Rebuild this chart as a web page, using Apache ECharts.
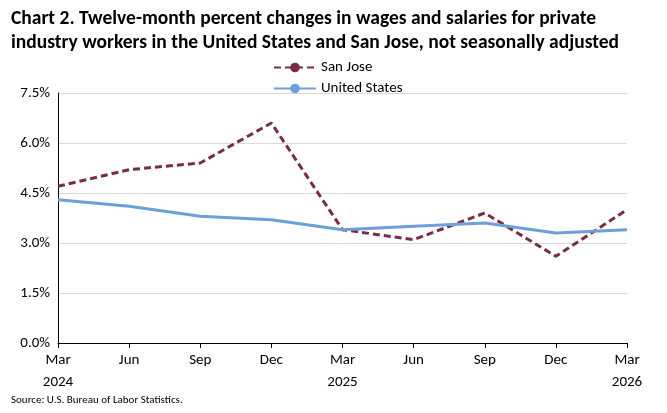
<!DOCTYPE html>
<html><head><meta charset="utf-8">
<script src="https://cdn.jsdelivr.net/npm/echarts@6/dist/echarts.min.js"></script>
<style>html,body{margin:0;padding:0;background:#fff}#c{width:667px;height:413px}</style>
</head><body><div id="c"></div>
<script>
const categories = ["Mar\n2024","Jun","Sep","Dec","Mar\n2025","Jun","Sep","Dec","Mar\n2026"];
const sanJose = [4.7,5.2,5.4,6.6,3.4,3.1,3.9,2.6,4.0];
const unitedStates = [4.3,4.1,3.8,3.7,3.4,3.5,3.6,3.3,3.4];
const chart = echarts.init(document.getElementById('c'));
const font = 'Calibri, Carlito, "Liberation Sans", Arial, sans-serif';
chart.setOption({
  animation:false,
  textStyle:{fontFamily:font},
  title:[{text:"Chart 2. Twelve-month percent changes in wages and salaries for private\nindustry workers in the United States and San Jose, not seasonally adjusted",
    left:6,top:2,textStyle:{fontSize:19.5,fontWeight:'bold',color:'#000',lineHeight:24,fontFamily:font}},
    {text:"Source: U.S. Bureau of Labor Statistics.",left:6,bottom:2,textStyle:{fontSize:11,fontWeight:'normal',color:'#000',fontFamily:font}}],
  legend:{orient:'vertical',left:268,top:55,itemGap:6,itemWidth:42,itemHeight:12,
    textStyle:{fontSize:15,color:'#000',fontFamily:font},
    data:['San Jose','United States']},
  grid:{left:58,right:40,top:93,bottom:70},
  xAxis:{type:'category',boundaryGap:false,data:categories,
    axisLine:{lineStyle:{color:'#000'}},axisTick:{show:true,length:5,lineStyle:{color:'#000'}},
    axisLabel:{color:'#000',fontSize:15,lineHeight:22,margin:6}},
  yAxis:{type:'value',min:0,max:7.5,interval:1.5,
    axisLine:{show:true,lineStyle:{color:'#000'}},
    splitLine:{lineStyle:{color:'#d9d9d9'}},
    axisLabel:{color:'#000',fontSize:15,formatter:v=>v.toFixed(1)+'%'}},
  series:[
    {name:'San Jose',type:'line',data:sanJose,symbol:'none',
      lineStyle:{color:'#772c4c',width:3,type:[7,4]},itemStyle:{color:'#772c4c'}},
    {name:'United States',type:'line',data:unitedStates,symbol:'none',
      lineStyle:{color:'#6c9fdc',width:3},itemStyle:{color:'#6c9fdc'}}
  ]
});
</script></body></html>
